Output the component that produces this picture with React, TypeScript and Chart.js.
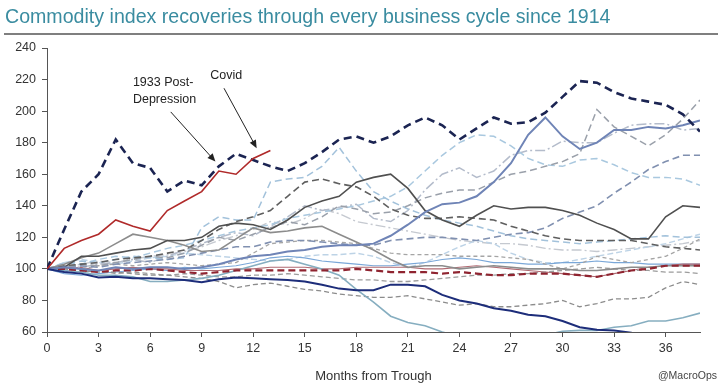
import React, { useEffect, useRef } from 'react';
import { Chart, registerables } from 'chart.js';

Chart.register(...registerables);

const TITLE = 'Commodity index recoveries through every business cycle since 1914';
const X_TITLE = 'Months from Trough';
const SOURCE = '@MacroOps';

const months = [0,1,2,3,4,5,6,7,8,9,10,11,12,13,14,15,16,17,18,19,20,21,22,23,24,25,26,27,28,29,30,31,32,33,34,35,36,37,38];

const navyDash = [100,125,149,160,182,167,164,149,156,153, 165,173,169,165,162,167,174,182,184,180, 184,191,196,191,182,189,196,192,193,199, 209,219,218,212,208,206,204,198,187];
const covid = [100,113,118,122,131,127,124,137,143,149,162,160,170,175];
const navySolid = [100,98,97,94.5,95,94,94,93.5,93,91.5, 93.5,94.5,94,93.5,93,92,90,87.5,86.5,86.5, 90,90,89,83.5,80,78,75,73.5,71,70, 67,63,61.5,61,59.5,57,56,55,54];
const steelSolid = [100,101,100,99,101,100,101,101,100,101, 103,106,108,109,111,112,114,115,115,116, 121,128,136,141,142,146,155,167,185,196, 184,176,180,188,188,190,189,191,194];
const darkGraySolid = [100,101,108,108,110,112,113,118,118,120, 127,129,128,125,131,139,143,146,155,158, 160,151,137,131,127,134,140,138,139,139, 137,134,129,125,119,119,133,140,139];
const midGraySolid = [100,103,107,110,116,122,120,118,115,111, 112,119,126,123,124,126,127,122,117,112, 106,101,102,102,100,101,102,101,100,100, 100,99,99,100,101,101,102,102,102];
const tealSolid = [100,99,98,96,96,95,92,92,93,94, 96,99,102,105,106,103,100,96,87,79, 70,66,64,60,57,55,54,54,55,58, 60.5,61,61,63,64,67,67,69,72];
const redDash = [100,100,99,98,99,99,100,99,98,97, 98,99,99,99,99,99,99,99,100,99, 98,98,98,97,98,97,96,96,97,97, 97,96,95,97,99,100,102,102,102];
const maroonThin = [100,100,101,99,100,101,100,100,99,99, 99,100,100,101,101,101,100,100,101,101, 101,101,100,100,101,102,101,100,99,98, 97,96,95,97,99,101,102,103,103];
const darkGrayDash = [100,102,103,104,106,107,108,110,112,118, 125,130,133,137,146,155,157,154,152,146, 138,134,132,132,133,132,131,127,124,121, 119,118,118,118,118,116,114,113,112];
const lightBlueA = [100,103,105,104,106,108,107,106,107,126, 133,131,131,155,157,158,165,177,162,149, 143,138,134,131,129,127,124,121,119,118, 117,116,117,118,119,120,121,120,120];
const lightBlueB = [100,104,103,106,108,107,110,113,115,118, 121,124,126,128,132,134,136,138,140,143, 146,152,162,172,180,185,184,178,170,166, 165,169,170,166,161,158,158,157,153];
const dashDotGray = [100,102,101,103,104,106,104,108,112,116, 120,123,121,127,133,140,137,139,141,132, 130,137,150,160,164,158,162,172,175,175, 181,180,180,186,191,192,192,188,189];
const graySpike = [100,101,103,102,104,106,108,107,110,115, 120,118,122,126,130,128,133,140,138,135, 136,140,145,148,150,150,155,160,162,165, 168,173,201,190,184,178,185,195,207];
const blueGrayRise = [100,101,102,101,103,104,105,106,108,110, 112,114,114,117,118,118,117,116,115,115, 118,119,120,120,119,118,120,122,123,126, 132,136,140,148,155,163,168,172,172];
const grayDown = [100,100,99,98,98,97,96,96,95,94, 92,88,90,91,89,87,86,84,83,82, 82,83,81,79,77,78,76,76,77,78, 80,76,78,81,81,82,88,92,90];
const grayDashMid = [100,101,100,102,103,102,103,104,103,102, 103,104,110,116,117,118,118,117,116,113, 110,109,109,109,108,108,108,107,106,103, 100,103,108,106,104,106,108,113,119];
const grayDashLow = [100,99,98,99,97,98,97,96,97,96, 95,95,96,96,97,96,95,94,93,93, 92,92,93,94,95,96,96,97,97,98, 99,100,101,100,99,99,98,98,97];
const lightBlueSolid = [100,97,96,97,98,99,100,99,101,100, 101,102,104,107,108,107,105,104,103,102, 102,103,104,106,107,106,104,104,103,103, 104,104,105,104,104,103,103,103,103];
const paleBlueDash = [100,104,106,104,103,105,107,108,110,109, 108,107,106,105,106,108,109,109,110,108, 104,101,104,109,114,118,116,110,106,104, 104,106,108,110,112,114,116,119,122];
const paleGrayDashDot = [100,101,103,105,104,106,108,109,111,114, 118,121,125,130,128,132,138,135,130,128, 126,124,122,120,118,117,116,116,115,113, 112,112,111,112,113,114,115,116,118];

const xTicks = [0,3,6,9,12,15,18,21,24,27,30,33,36];
const yTicks = [60,80,100,120,140,160,180,200,220,240];

// annotation anchors in data units (month, index value)
const note1933 = { lines: ['1933 Post-', 'Depression'], x: 5.0, y: 218, from: [7.2, 199.5], to: [9.8, 168] };
const noteCovid = { lines: ['Covid'], x: 9.5, y: 222.5, from: [10.3, 214.5], to: [12.2, 176.5] };

const FONT = '"Liberation Sans", Arial, sans-serif';

function series(label: string, values: number[], color: string, width: number, dash: number[] = []) {
  return {
    label,
    data: values.map((v, i) => ({ x: months[i], y: v })),
    borderColor: color,
    backgroundColor: color,
    borderWidth: width,
    borderDash: dash,
    pointRadius: 0,
    tension: 0,
    fill: false,
  };
}

const overlay = {
  id: 'overlay',
  afterDraw(chart: any) {
    const ctx = chart.ctx as CanvasRenderingContext2D;
    const xs = chart.scales.x;
    const ys = chart.scales.y;
    ctx.save();
    ctx.font = `19.6px ${FONT}`;
    ctx.fillStyle = '#3a8ca0';
    ctx.textAlign = 'left';
    ctx.textBaseline = 'alphabetic';
    ctx.fillText(TITLE, 5, 23);
    ctx.strokeStyle = '#555';
    ctx.lineWidth = 1.5;
    ctx.beginPath();
    ctx.moveTo(4, 34);
    ctx.lineTo(718, 34);
    ctx.stroke();

    ctx.font = `10.5px ${FONT}`;
    ctx.fillStyle = '#444';
    ctx.textBaseline = 'middle';
    ctx.textAlign = 'right';
    ctx.fillText(SOURCE, 717, 376);

    const drawNote = (n: any) => {
      ctx.font = `12.5px ${FONT}`;
      ctx.fillStyle = '#222';
      ctx.textAlign = 'left';
      ctx.textBaseline = 'middle';
      const x0 = xs.getPixelForValue(n.x);
      const y0 = ys.getPixelForValue(n.y);
      n.lines.forEach((t: string, i: number) => ctx.fillText(t, x0, y0 + i * 16.5));
      const fx = xs.getPixelForValue(n.from[0]);
      const fy = ys.getPixelForValue(n.from[1]);
      const tx = xs.getPixelForValue(n.to[0]);
      const ty = ys.getPixelForValue(n.to[1]);
      const ang = Math.atan2(ty - fy, tx - fx);
      const hl = 8, hw = 3.5;
      ctx.strokeStyle = '#222';
      ctx.lineWidth = 1;
      ctx.beginPath();
      ctx.moveTo(fx, fy);
      ctx.lineTo(tx - Math.cos(ang) * hl * 0.8, ty - Math.sin(ang) * hl * 0.8);
      ctx.stroke();
      ctx.beginPath();
      ctx.moveTo(tx, ty);
      ctx.lineTo(tx - Math.cos(ang) * hl - Math.sin(ang) * hw, ty - Math.sin(ang) * hl + Math.cos(ang) * hw);
      ctx.lineTo(tx - Math.cos(ang) * hl + Math.sin(ang) * hw, ty - Math.sin(ang) * hl - Math.cos(ang) * hw);
      ctx.closePath();
      ctx.fillStyle = '#222';
      ctx.fill();
    };
    drawNote(note1933);
    drawNote(noteCovid);
    ctx.restore();
  },
};

export default function App() {
  const ref = useRef<HTMLCanvasElement>(null);
  useEffect(() => {
    const datasets = [
      series('Covid', covid, '#b02a2a', 1.6),
      series('1933 Post-Depression', navyDash, '#1b2452', 2.6, [8, 5]),
      series('Navy', navySolid, '#1d2d7a', 2),
      series('Steel', steelSolid, '#6f84b6', 2),
      series('Dark gray', darkGraySolid, '#505050', 1.6),
      series('Red dash', redDash, '#8f2430', 2.2, [7, 4]),
      series('Mid gray', midGraySolid, '#8c8c8c', 1.6),
      series('Teal', tealSolid, '#86aec0', 1.6),
      series('Dark gray dash', darkGrayDash, '#5f5f5f', 1.6, [7, 4]),
      series('Gray spike', graySpike, '#9aa0aa', 1.5, [7, 4]),
      series('Blue-gray rise', blueGrayRise, '#8090b0', 1.6, [7, 4]),
      series('Light blue A', lightBlueA, '#a3c2db', 1.5, [7, 4]),
      series('Light blue B', lightBlueB, '#a9c8df', 1.5, [7, 4]),
      series('Dash-dot gray', dashDotGray, '#b4bccb', 1.5, [10, 3, 2, 3]),
      series('Gray down', grayDown, '#8c8c8c', 1.3, [5, 3]),
      series('Gray mid', grayDashMid, '#a5a5a5', 1.3, [4, 3]),
      series('Gray low', grayDashLow, '#9c9c9c', 1.3, [5, 3]),
      series('Maroon thin', maroonThin, '#b06a72', 1.1),
      series('Light blue solid', lightBlueSolid, '#7aa7d8', 1.1),
      series('Pale blue', paleBlueDash, '#bdd3e6', 1.4, [6, 3]),
      series('Pale gray dd', paleGrayDashDot, '#c5c9d0', 1.4, [10, 3, 2, 3]),
    ];
    const chart = new Chart(ref.current!, {
      type: 'line',
      data: { datasets },
      options: {
        responsive: false,
        animation: false,
        parsing: false as any,
        normalized: true,
        layout: { padding: { top: 48, right: 20, bottom: 4, left: 0 } },
        plugins: { legend: { display: false }, tooltip: { enabled: false }, title: { display: false } },
        scales: {
          x: {
            type: 'linear',
            min: 0,
            max: 38,
            afterFit: (s: any) => { s.height = 52; },
            afterBuildTicks: (s: any) => { s.ticks = xTicks.map((v) => ({ value: v })); },
            ticks: { color: '#333', font: { family: FONT, size: 12.5 }, padding: 4, maxRotation: 0 },
            grid: { display: true, drawOnChartArea: false, drawTicks: true, tickLength: 5, color: '#555' },
            border: { display: true, color: '#555', width: 1 },
            title: { display: true, text: X_TITLE, color: '#333', font: { family: FONT, size: 13 }, padding: 0 },
          },
          y: {
            type: 'linear',
            min: 60,
            max: 240,
            afterFit: (s: any) => { s.width = 47; },
            afterBuildTicks: (s: any) => { s.ticks = yTicks.map((v) => ({ value: v })); },
            ticks: { color: '#333', font: { family: FONT, size: 12.5 }, padding: 6 },
            grid: { display: true, drawOnChartArea: false, drawTicks: true, tickLength: 5, color: '#555' },
            border: { display: true, color: '#555', width: 1 },
          },
        },
      },
      plugins: [overlay],
    } as any);
    return () => chart.destroy();
  }, []);
  return (
    <div style={{ position: 'absolute', left: 0, top: 0, width: 720, height: 388, background: '#fff' }}>
      <canvas ref={ref} width={720} height={388} />
    </div>
  );
}
